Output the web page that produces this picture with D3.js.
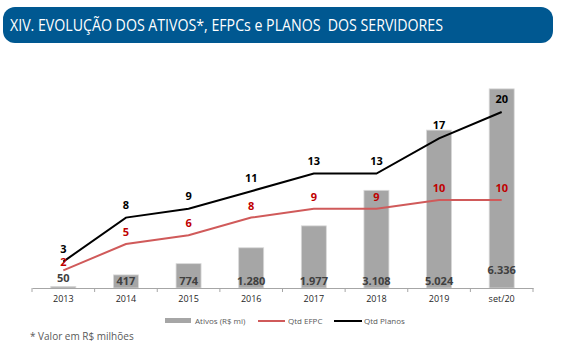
<!DOCTYPE html>
<html>
<head>
<meta charset="utf-8">
<script src="https://cdn.jsdelivr.net/npm/d3@7"></script>
<style>
  body { margin: 0; background: #fff; }
  svg { display: block; font-family: "Open Sans", "Noto Sans", sans-serif; }
</style>
</head>
<body>
<div id="chart"></div>
<script>
// Data
var categories = ["2013", "2014", "2015", "2016", "2017", "2018", "2019", "set/20"];
var ativos = [50, 417, 774, 1280, 1977, 3108, 5024, 6336];
var ativosLabels = ["50", "417", "774", "1.280", "1.977", "3.108", "5.024", "6.336"];
var qtdEfpc = [2, 5, 6, 8, 9, 9, 10, 10];
var qtdPlanos = [3, 8, 9, 11, 13, 13, 17, 20];

var svgWidth = 566;
var svgHeight = 364;

var margin = {top: 68, bottom: 76, left: 32, right: 33};
var width = svgWidth - margin.left - margin.right;
var height = svgHeight - margin.top - margin.bottom;

var svg = d3.select("#chart")
  .append("svg")
  .attr("width", svgWidth)
  .attr("height", svgHeight);

// Title banner
svg.append("rect")
  .attr("x", 3).attr("y", 7)
  .attr("width", 550).attr("height", 36)
  .attr("rx", 12)
  .attr("fill", "#005891");

svg.append("text")
  .attr("x", 10).attr("y", 31)
  .attr("fill", "#fff")
  .style("font-family", "'Liberation Sans Narrow', 'Open Sans', sans-serif")
  .style("font-size", "16px")
  .style("white-space", "pre")
  .attr("textLength", 433)
  .attr("lengthAdjust", "spacingAndGlyphs")
  .text("XIV. EVOLUÇÃO DOS ATIVOS*, EFPCs e PLANOS  DOS SERVIDORES");

var g = svg.append("g")
  .attr("transform", `translate(${margin.left}, ${margin.top})`);

// Scales
var x = d3.scaleBand()
  .domain(categories)
  .range([0, width]);

var yBar = d3.scaleLinear()
  .domain([0, 7000])
  .range([height, 0]);

var yLine = d3.scaleLinear()
  .domain([0, 25])
  .range([height, 0]);

// Bars
g.selectAll(".bar")
  .data(ativos)
  .enter()
  .append("rect")
  .attr("class", "bar")
  .attr("x", (d, i) => x(categories[i]) + x.bandwidth() / 2 - 12.5)
  .attr("y", d => yBar(d))
  .attr("width", 25)
  .attr("height", d => height - yBar(d))
  .attr("fill", "#a6a6a6")
  .attr("stroke", "#d9d9d9")
  .attr("stroke-width", 0.8);

// Bar labels
g.selectAll(".barLabel")
  .data(ativosLabels)
  .enter()
  .append("text")
  .attr("x", (d, i) => x(categories[i]) + x.bandwidth() / 2)
  .attr("y", (d, i) => i === 0 ? height - 6 : (i === 7 ? height - 14 : height - 3))
  .attr("text-anchor", "middle")
  .attr("fill", "#404040")
  .style("font-size", "11px")
  .style("font-weight", "bold")
  .text(d => d);

// X axis
var xAxis = d3.axisBottom(x).tickSize(0).tickPadding(8);
var axisG = g.append("g")
  .attr("transform", `translate(0, ${height})`)
  .call(xAxis);
axisG.select(".domain").attr("stroke", "#a6a6a6");
axisG.selectAll("text")
  .style("font-size", "9px")
  .style("font-family", "'Open Sans', sans-serif")
  .attr("fill", "#262626");

// Tick marks between categories
g.selectAll(".sep")
  .data(d3.range(categories.length + 1))
  .enter()
  .append("line")
  .attr("x1", d => d * x.step())
  .attr("x2", d => d * x.step())
  .attr("y1", height)
  .attr("y2", height + 4)
  .attr("stroke", "#a6a6a6");

// Lines
var line = d3.line()
  .x((d, i) => x(categories[i]) + x.bandwidth() / 2)
  .y(d => yLine(d));

g.append("path")
  .datum(qtdEfpc)
  .attr("fill", "none")
  .attr("stroke", "#d05a5a")
  .attr("stroke-width", 2)
  .attr("d", line);

g.append("path")
  .datum(qtdPlanos)
  .attr("fill", "none")
  .attr("stroke", "#000")
  .attr("stroke-width", 2)
  .attr("d", line);

// Line labels
g.selectAll(".efpcLabel")
  .data(qtdEfpc)
  .enter()
  .append("text")
  .attr("x", (d, i) => x(categories[i]) + x.bandwidth() / 2)
  .attr("y", (d, i) => yLine(d) - (i === 0 ? 4 : 8))
  .attr("text-anchor", "middle")
  .attr("fill", "#c00000")
  .style("font-size", "11px")
  .style("font-weight", "bold")
  .text(d => d);

g.selectAll(".planosLabel")
  .data(qtdPlanos)
  .enter()
  .append("text")
  .attr("x", (d, i) => x(categories[i]) + x.bandwidth() / 2)
  .attr("y", d => yLine(d) - 9)
  .attr("text-anchor", "middle")
  .attr("fill", "#000")
  .style("font-size", "11px")
  .style("font-weight", "bold")
  .text(d => d);

// Legend
var legend = svg.append("g")
  .style("font-size", "8px")
  .attr("fill", "#595959");

legend.append("rect")
  .attr("x", 165).attr("y", 318)
  .attr("width", 26).attr("height", 5)
  .attr("fill", "#a6a6a6");
legend.append("text").attr("x", 195).attr("y", 324).text("Ativos (R$ mi)");

legend.append("line")
  .attr("x1", 258).attr("x2", 285).attr("y1", 321).attr("y2", 321)
  .attr("stroke", "#d05a5a").attr("stroke-width", 2);
legend.append("text").attr("x", 288).attr("y", 324).text("Qtd EFPC");

legend.append("line")
  .attr("x1", 334).attr("x2", 362).attr("y1", 321).attr("y2", 321)
  .attr("stroke", "#000").attr("stroke-width", 2);
legend.append("text").attr("x", 364).attr("y", 324).text("Qtd Planos");

// Footnote
svg.append("text")
  .attr("x", 30).attr("y", 340)
  .attr("fill", "#595959")
  .style("font-size", "10px")
  .text("* Valor em R$ milhões");
</script>
</body>
</html>
